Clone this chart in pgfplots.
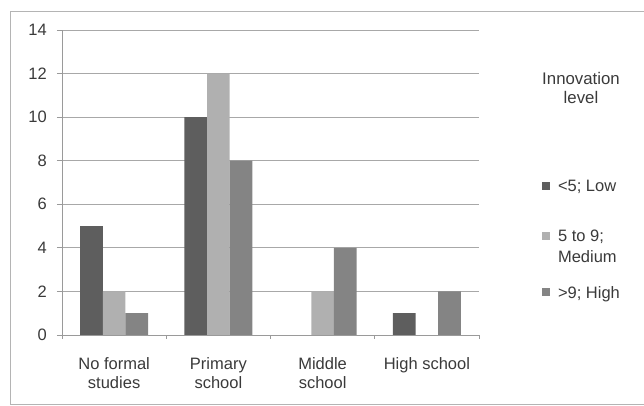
\documentclass[border=0pt]{standalone}
\usepackage{pgfplots}
\pgfplotsset{compat=1.18}
\usepackage{fontspec}
\setmainfont{Liberation Sans}
\definecolor{cLow}{HTML}{5E5E5E}
\definecolor{cMed}{HTML}{B0B0B0}
\definecolor{cHigh}{HTML}{848484}
\definecolor{gridC}{HTML}{A8A8A8}
\definecolor{axisC}{HTML}{9A9A9A}
\definecolor{frameC}{HTML}{B4B4B4}
\definecolor{textC}{HTML}{3A3A3A}
\pgfplotsset{
  frame axis/.style={at={(62pt,71pt)}, anchor=south west, scale only axis,
    width=417pt, height=305pt},
  legend axis/.style={frame axis, xmin=0, xmax=1, ymin=0, ymax=1, hide axis,
    legend style={at={(axis description cs:1.1511,#1)}, anchor=north west,
      draw=none, fill=none, inner sep=0pt, outer sep=0pt,
      row sep=0pt, column sep=6pt,
      font=\fontsize{16.5}{21}\selectfont, text=textC,
      cells={anchor=base west, inner sep=0pt}},
    legend image code/.code={\fill[##1, draw=none] (0pt,2pt) rectangle (8pt,10pt);}},
}
\begin{document}
\begin{tikzpicture}[x=1pt,y=1pt]
\draw[color=frameC, line width=0.8pt] (646,395) -- (10,395) -- (10,2) -- (646,2);
\begin{axis}[
  frame axis,
  xmin=-0.5, xmax=3.5, ymin=0, ymax=14,
  ytick={0,2,...,14},
  xtick={0,1,2,3},
  xticklabels={{No formal\\studies},{Primary\\school},{Middle\\school},{High school}},
  minor xtick={-0.5,0.5,1.5,2.5,3.5},
  axis x line=bottom, axis y line=left,
  axis line style={-, draw=axisC, line width=0.8pt},
  ymajorgrids, grid style={draw=gridC, line width=0.8pt},
  tick align=outside,
  major x tick style={draw=none},
  minor x tick style={draw=axisC, line width=0.8pt},
  ytick style={draw=axisC, line width=0.8pt},
  major tick length=5pt, minor tick length=4pt,
  /pgf/number format/assume math mode=true,
  every tick label/.append style={font=\fontsize{16.5}{19.5}\selectfont, text=textC},
  yticklabel style={anchor=east, inner sep=0pt, xshift=-10pt},
  xticklabel style={align=center, anchor=north, inner sep=0pt, yshift=-17pt},
  ybar=0pt, bar width=22.7pt,
]
\addplot[fill=cLow, draw=none] coordinates {(0,5) (1,10) (3,1)};
\addplot[fill=cMed, draw=none] coordinates {(0,2) (1,12) (2,2)};
\addplot[fill=cHigh, draw=none] coordinates {(0,1) (1,8) (2,4) (3,2)};
\end{axis}
\begin{axis}[legend axis=0.5246]
\addlegendimage{fill=cLow, draw=none}
\addlegendentry{\rule{0pt}{15pt}<5; Low}
\end{axis}
\begin{axis}[legend axis=0.3607]
\addlegendimage{fill=cMed, draw=none}
\addlegendentry{\rule{0pt}{15pt}\begin{tabular}[t]{@{}l@{}}5 to 9;\\Medium\end{tabular}}
\end{axis}
\begin{axis}[legend axis=0.1770]
\addlegendimage{fill=cHigh, draw=none}
\addlegendentry{\rule{0pt}{15pt}>9; High}
\end{axis}
\node[anchor=base, font=\fontsize{16.8}{20}\selectfont, text=textC] at (581,321) {Innovation};
\node[anchor=base, font=\fontsize{16.8}{20}\selectfont, text=textC] at (581,302) {level};
\pgfresetboundingbox
\path[use as bounding box] (0,0) rectangle (644,406);
\end{tikzpicture}
\end{document}
